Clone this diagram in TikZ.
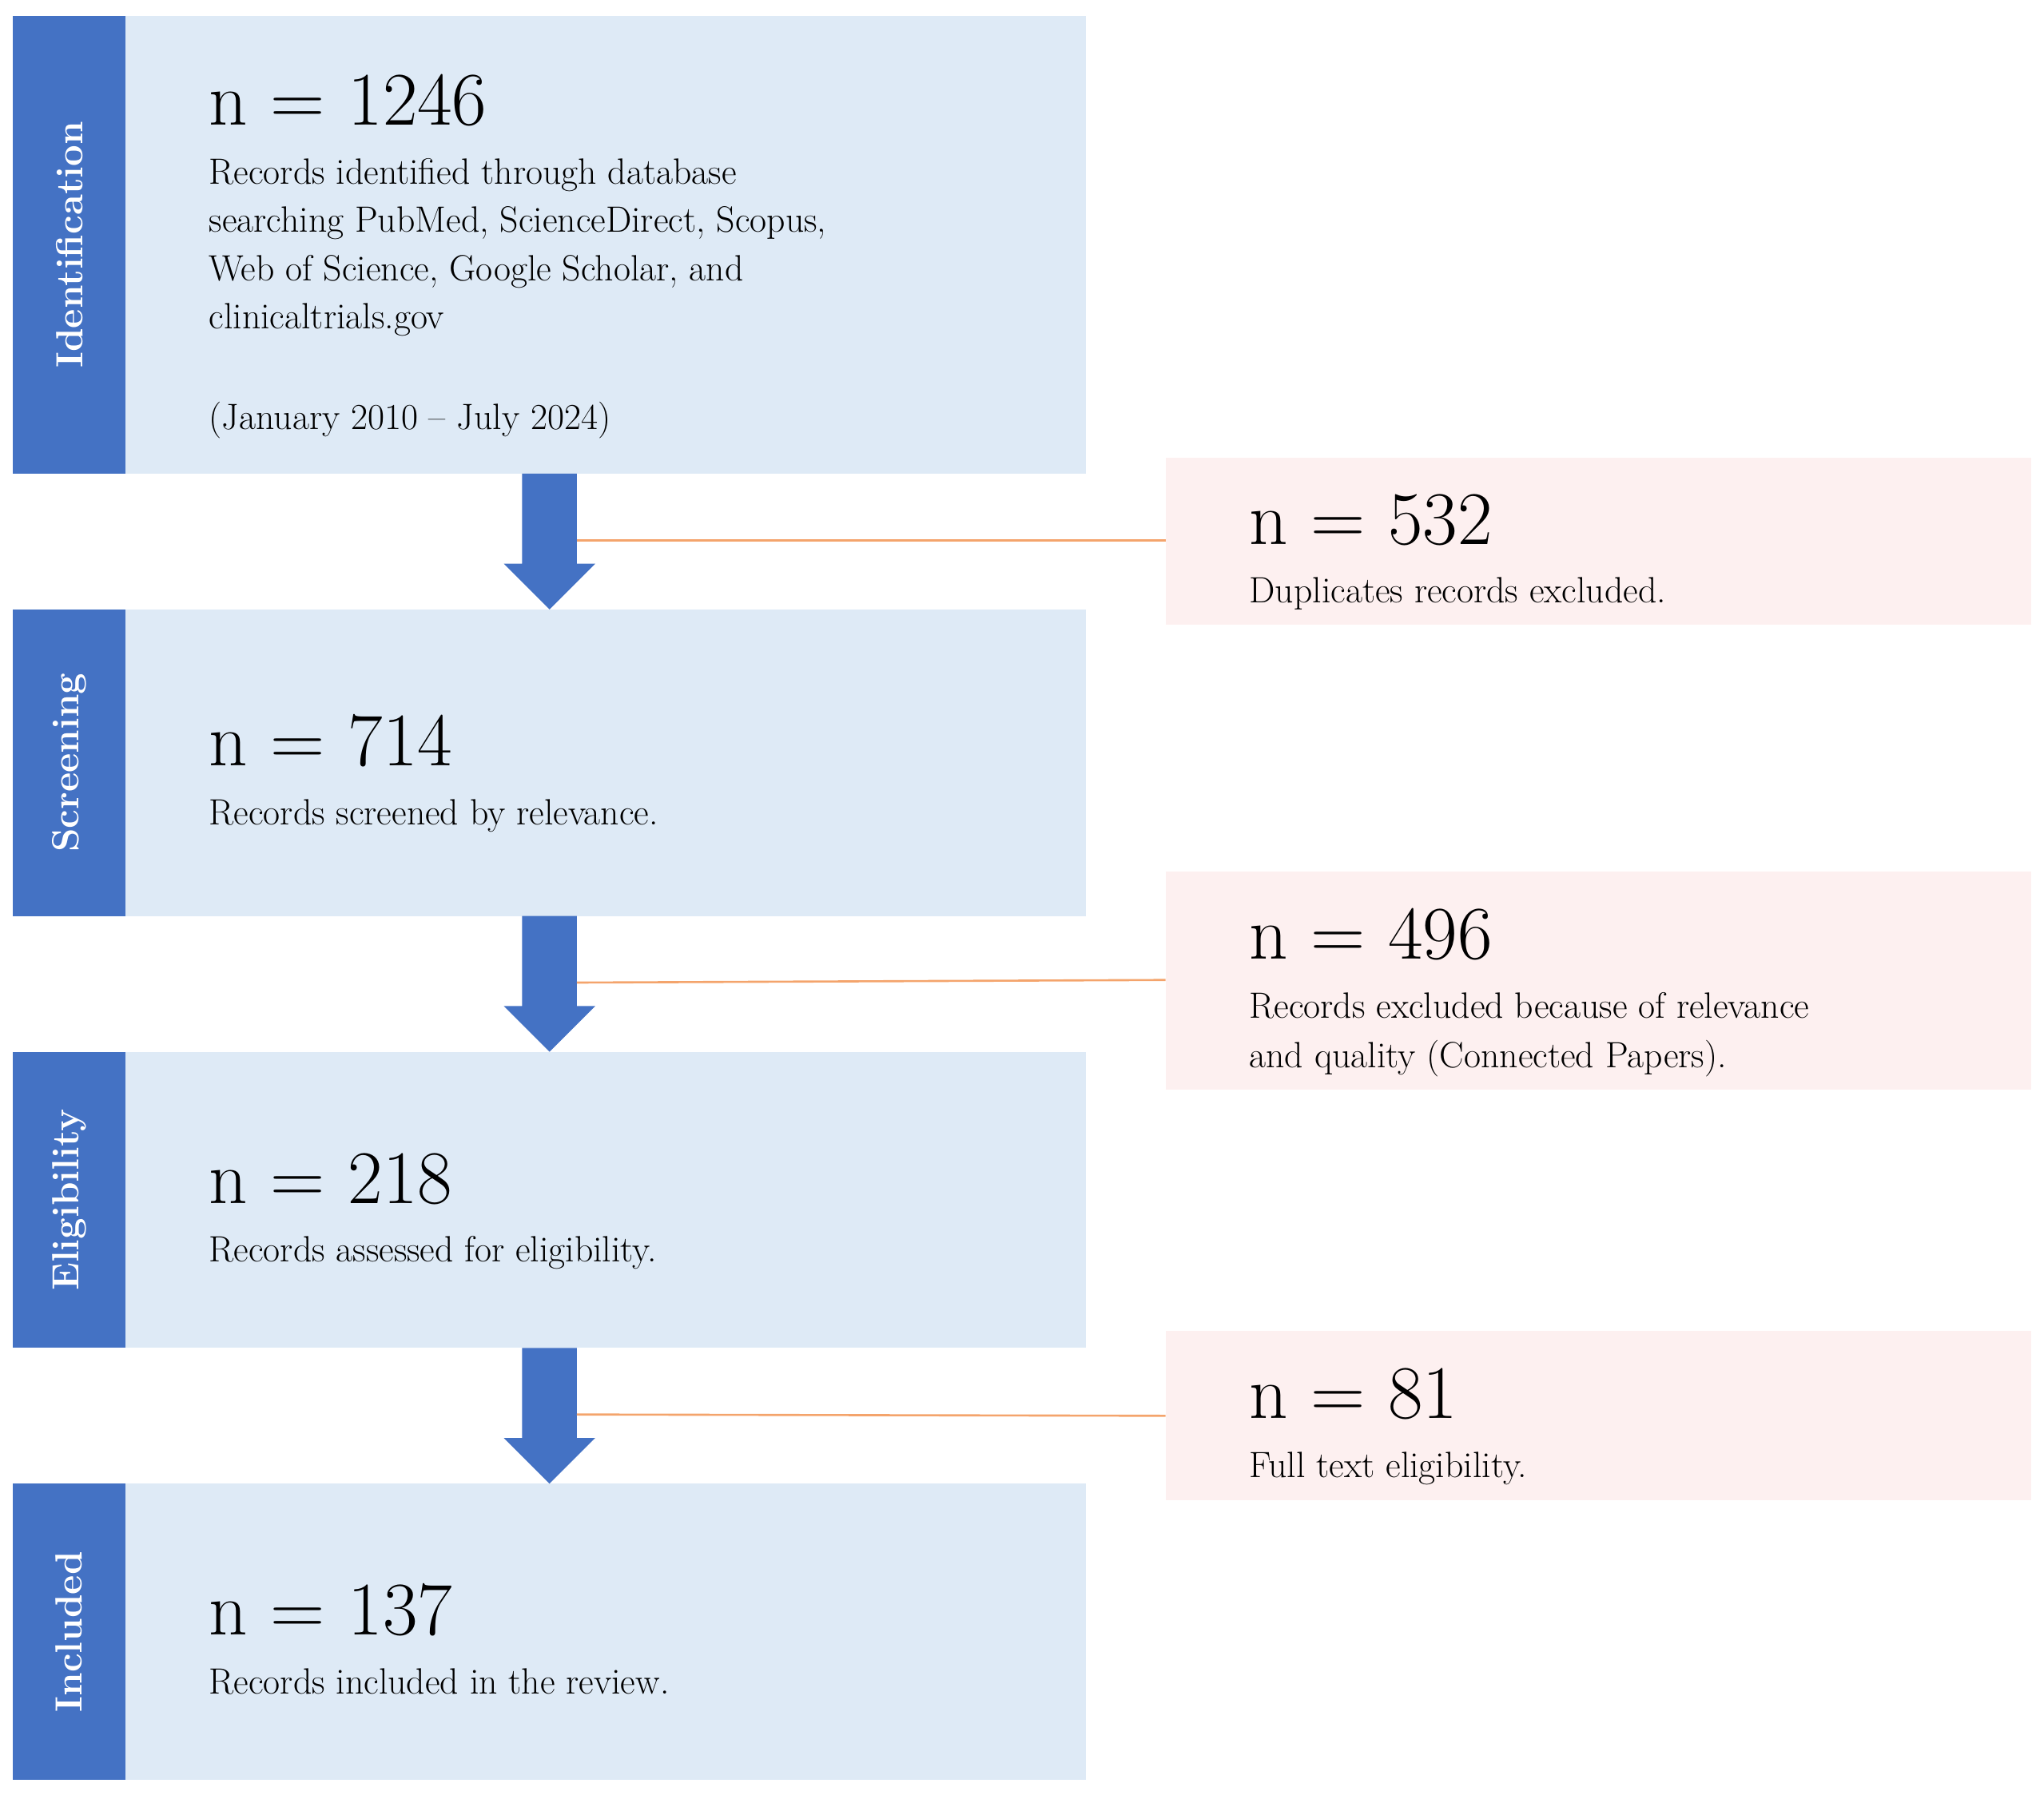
\documentclass[tikz,border=0pt]{standalone}
\definecolor{sbar}{HTML}{4472C4}
\definecolor{bfill}{HTML}{DEEAF6}
\definecolor{pfill}{HTML}{FDF0F0}
\definecolor{oline}{HTML}{F4A46C}
\tikzset{
 mainbox/.style={fill=bfill,draw=none},
 sidebar/.style={fill=sbar,draw=none},
 pinkbox/.style={fill=pfill,draw=none},
 big/.style={anchor=base west,inner sep=0pt,font=\fontsize{58}{60}\selectfont},
 txt/.style={anchor=base west,inner sep=0pt,font=\fontsize{28}{37}\selectfont,align=left},
 side/.style={rotate=90,text=white,font=\fontsize{29}{30}\selectfont\bfseries},
 conn/.style={draw=oline,line width=1.6pt},
 flow/.style={fill=sbar,draw=none}
}
\begin{document}
\begin{tikzpicture}[x=1pt,y=-1pt]
\useasboundingbox (0,0) rectangle (1566,1375);
% main boxes
\foreach \t/\b/\lab/\nm in {12/363/Identification/A,467/702/Screening/B,806/1033/Eligibility/C,1137/1364/Included/D}{
 \fill[mainbox] (96,\t) rectangle (832,\b);
 \fill[sidebar] (10,\t) rectangle (96,\b);
 \node[side] (s\nm) at (53,{(\t+\b)/2}) {\lab};
}
% arrows
\foreach \t/\b/\nm in {363/467/1,702/806/2,1033/1137/3}{
 \fill[flow] (400,\t) -- (442,\t) -- (442,{\b-35}) -- (456,{\b-35}) -- (421,\b) -- (386,{\b-35}) -- (400,{\b-35}) -- cycle;
 \coordinate (ar\nm) at (442,{\b-53});
}
% pink boxes
\fill[pinkbox] (893,351) rectangle (1556,479);
\fill[pinkbox] (893,668) rectangle (1556,835);
\fill[pinkbox] (893,1020) rectangle (1556,1150);
\coordinate (p1) at (893,414);
\coordinate (p2) at (893,751);
\coordinate (p3) at (893,1085);
\draw[conn] (ar1) -- (p1);
\draw[conn] (ar2) -- (p2);
\draw[conn] (ar3) -- (p3);
% texts
\node[big] (n1) at (160,96) {n = 1246};
\node[txt] (t1a) at (160,141) {Records identified through database};
\node[txt] (t1b) at (160,178) {searching PubMed, ScienceDirect, Scopus,};
\node[txt] (t1c) at (160,215) {Web of Science, Google Scholar, and};
\node[txt] (t1d) at (160,252) {clinicaltrials.gov};
\node[txt] (t1e) at (160,329) {(January 2010 -- July 2024)};
\node[big] (n2) at (160,587) {n = 714};
\node[txt] (t2) at (160,632) {Records screened by relevance.};
\node[big] (n3) at (160,922) {n = 218};
\node[txt] (t3) at (160,967) {Records assessed for eligibility.};
\node[big] (n4) at (160,1253) {n = 137};
\node[txt] (t4) at (160,1298) {Records included in the review.};
\node[big] (m1) at (957,417) {n = 532};
\node[txt] (u1) at (957,462) {Duplicates records excluded.};
\node[big] (m2) at (957,735) {n = 496};
\node[txt] (u2) at (957,780) {Records excluded because of relevance};
\node[txt] (u2b) at (957,818) {and quality (Connected Papers).};
\node[big] (m3) at (957,1087) {n = 81};
\node[txt] (u3) at (957,1132) {Full text eligibility.};
\end{tikzpicture}
\end{document}
